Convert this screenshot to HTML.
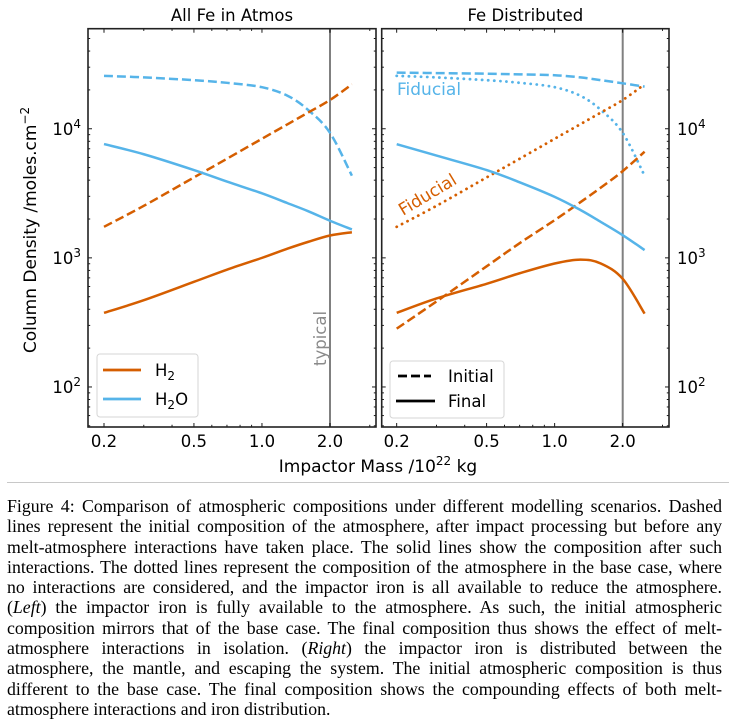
<!DOCTYPE html>
<html><head><meta charset="utf-8">
<style>
html,body{margin:0;padding:0;background:#fff;width:733px;height:725px;overflow:hidden;}
#cap{position:absolute;left:7px;top:496px;width:715px;font-family:"Liberation Serif",serif;font-size:17.8px;line-height:20.3px;color:#000;}
#cap div{text-align:justify;text-align-last:justify;white-space:nowrap;height:20.3px;}
#cap div.last{text-align-last:left;}
#rule{position:absolute;left:7px;top:482px;width:722px;height:1px;background:#c8c8c8;}
</style></head><body>
<svg id="chart" width="733" height="480" style="position:absolute;left:0;top:0" font-family="DejaVu Sans, sans-serif"></svg>
<div id="rule"></div>
<div id="cap">
<div>Figure 4: Comparison of atmospheric compositions under different modelling scenarios. Dashed</div>
<div>lines represent the initial composition of the atmosphere, after impact processing but before any</div>
<div>melt-atmosphere interactions have taken place. The solid lines show the composition after such</div>
<div>interactions. The dotted lines represent the composition of the atmosphere in the base case, where</div>
<div>no interactions are considered, and the impactor iron is all available to reduce the atmosphere.</div>
<div>(<i>Left</i>) the impactor iron is fully available to the atmosphere. As such, the initial atmospheric</div>
<div>composition mirrors that of the base case. The final composition thus shows the effect of melt-</div>
<div>atmosphere interactions in isolation. (<i>Right</i>) the impactor iron is distributed between the</div>
<div>atmosphere, the mantle, and escaping the system. The initial atmospheric composition is thus</div>
<div>different to the base case. The final composition shows the compounding effects of both melt-</div>
<div class="last">atmosphere interactions and iron distribution.</div>
</div>
<script>
// ---- data ----
const massX = [0.2, 0.3, 0.5, 0.7, 1.0, 1.3, 1.6, 2.0, 2.5];
const fidH2O = [25700, 25000, 23800, 22700, 21000, 18000, 14000, 9300, 4330];
const fidH2 = [1740, 2530, 4200, 5860, 8370, 10860, 13350, 16700, 22100];
const leftH2OFinal = [7610, 6350, 4790, 3900, 3160, 2650, 2300, 1940, 1660];
const leftH2Final = [375, 470, 652, 810, 1000, 1180, 1330, 1490, 1580];
const rightH2OInit = [27200, 27000, 26700, 26400, 26000, 25000, 23800, 22500, 21200];
const rightH2Init = [283, 460, 860, 1300, 1960, 2700, 3500, 4700, 6640];
const rightH2OFinal = [7600, 6200, 4790, 3850, 2970, 2350, 1900, 1500, 1150];
const rightH2Final = [375, 485, 630, 760, 905, 970, 905, 688, 370];
const xTicks = [0.2, 0.5, 1.0, 2.0];
const xTickLabels = ["0.2", "0.5", "1.0", "2.0"];
const xMinor = [0.3, 0.4, 0.6, 0.7, 0.8, 0.9, 3.0];
const yTicks = [100, 1000, 10000];
const yTickExp = ["2", "3", "4"];
const typicalMass = 2.0;

const ORANGE = "#d55e00", BLUE = "#56b4e9";
const svg = document.getElementById('chart');
const NS = "http://www.w3.org/2000/svg";
function mk(tag, attrs, parent) {
  const e = document.createElementNS(NS, tag);
  for (const k in attrs) e.setAttribute(k, attrs[k]);
  (parent || svg).appendChild(e);
  return e;
}
const TOP = 28.7, BOT = 427;
const yLogTop = 4 + (128.7 - TOP) / 129, yLogBot = 2 - (BOT - 387) / 129;
function yScale(v) { return TOP + (yLogTop - Math.log10(v)) / (yLogTop - yLogBot) * (BOT - TOP); }
function makeX(x02) { return v => x02 + (Math.log10(v) - Math.log10(0.2)) * 226; }

function smoothPath(pts) {
  let d = "M" + pts[0][0].toFixed(2) + "," + pts[0][1].toFixed(2);
  for (let i = 0; i < pts.length - 1; i++) {
    const p0 = pts[Math.max(i - 1, 0)], p1 = pts[i], p2 = pts[i + 1], p3 = pts[Math.min(i + 2, pts.length - 1)];
    const c1 = [p1[0] + (p2[0] - p0[0]) / 6, p1[1] + (p2[1] - p0[1]) / 6];
    const c2 = [p2[0] - (p3[0] - p1[0]) / 6, p2[1] - (p3[1] - p1[1]) / 6];
    d += " C" + c1.map(n => n.toFixed(2)).join(",") + " " + c2.map(n => n.toFixed(2)).join(",") + " " + p2[0].toFixed(2) + "," + p2[1].toFixed(2);
  }
  return d;
}

function panel(name, L, R, x02, labelsRight, title) {
  const xs = makeX(x02);
  const g = mk('g', {});
  
  
  const t = mk('text', {x: (L + R) / 2, y: 21, 'text-anchor': 'middle', 'font-size': 16.5}, g);
  t.textContent = title;
  
  
  const tl = mk('line', {x1: xs(typicalMass), x2: xs(typicalMass), y1: TOP, y2: BOT, stroke: '#808080', 'stroke-width': 2}, g);
  
  
  const tg = mk('g', {stroke: '#000', 'stroke-width': 0.9}, g);
  xTicks.forEach((v, i) => {
    const x = xs(v);
    mk('line', {x1: x, x2: x, y1: BOT, y2: BOT - 4}, tg);
    mk('line', {x1: x, x2: x, y1: TOP, y2: TOP + 4}, tg);
    const lb = mk('text', {x: x, y: BOT + 20, 'text-anchor': 'middle', 'font-size': 16.5, stroke: 'none', fill: '#000'}, g);
    lb.textContent = xTickLabels[i];
    
    
  });
  xMinor.forEach(v => {
    const x = xs(v);
    if (x > R) return;
    mk('line', {x1: x, x2: x, y1: BOT, y2: BOT - 2.2}, tg);
    mk('line', {x1: x, x2: x, y1: TOP, y2: TOP + 2.2}, tg);
  });
  yTicks.forEach((v, i) => {
    const y = yScale(v);
    mk('line', {x1: L, x2: L + 4, y1: y, y2: y}, tg);
    mk('line', {x1: R, x2: R - 4, y1: y, y2: y}, tg);
    const lb = mk('text', {x: labelsRight ? R + 8 : L - 7, y: y + 6, 'text-anchor': labelsRight ? 'start' : 'end', 'font-size': 16.5, stroke: 'none', fill: '#000'}, g);
    lb.innerHTML = '10<tspan dy="-7" font-size="12">' + yTickExp[i] + '</tspan>';
    
    
  });
  for (let dec = 10; dec <= 10000; dec *= 10) {
    for (let m = 2; m <= 9; m++) {
      const y = yScale(dec * m);
      if (y < TOP || y > BOT) continue;
      mk('line', {x1: L, x2: L + 2.2, y1: y, y2: y}, tg);
      mk('line', {x1: R, x2: R - 2.2, y1: y, y2: y}, tg);
    }
  }
  const fr = mk('rect', {x: L, y: TOP, width: R - L, height: BOT - TOP, fill: 'none', stroke: '#222', 'stroke-width': 1.6}, g);
  
  
  return {g, xs};
}
function series(p, ys, color, dash, name) {
  const pts = massX.map((v, i) => [p.xs(v), yScale(ys[i])]);
  const a = {d: smoothPath(pts), fill: 'none', stroke: color, 'stroke-width': 2.5};
  if (dash === 'dash') a['stroke-dasharray'] = '9,4';
  if (dash === 'dot') { a['stroke-dasharray'] = '0.1,6'; a['stroke-linecap'] = 'round'; a['stroke-width'] = 2.8; }
  const e = mk('path', a, p.g);
  
  
}

const pl = panel('left-panel', 88, 376, 104, false, 'All Fe in Atmos');
series(pl, fidH2O, BLUE, 'dash', 'h2o-initial-line');
series(pl, fidH2, ORANGE, 'dash', 'h2-initial-line');
series(pl, leftH2OFinal, BLUE, '', 'h2o-final-line');
series(pl, leftH2Final, ORANGE, '', 'h2-final-line');
const typ = mk('text', {x: 0, y: 0, transform: 'translate(' + (pl.xs(typicalMass) - 4) + ',366) rotate(-90)', 'font-size': 16.5, fill: '#8a8a8a'}, pl.g);
typ.textContent = 'typical';



const pr = panel('right-panel', 381.7, 669, 396.7, true, 'Fe Distributed');
series(pr, fidH2O, BLUE, 'dot', 'h2o-fiducial-line');
series(pr, fidH2, ORANGE, 'dot', 'h2-fiducial-line');
series(pr, rightH2OInit, BLUE, 'dash', 'h2o-initial-line');
series(pr, rightH2Init, ORANGE, 'dash', 'h2-initial-line');
series(pr, rightH2OFinal, BLUE, '', 'h2o-final-line');
series(pr, rightH2Final, ORANGE, '', 'h2-final-line');
const f1 = mk('text', {x: 397, y: 95, 'font-size': 17, fill: BLUE}, pr.g);
f1.textContent = 'Fiducial';


const f2 = mk('text', {x: 0, y: 0, transform: 'translate(403,216) rotate(-31)', 'font-size': 17, fill: ORANGE}, pr.g);
f2.textContent = 'Fiducial';



function legend(name, x, y, w, h, items) {
  const g = mk('g', {});
  
  
  mk('rect', {x, y, width: w, height: h, rx: 3, fill: '#fff', stroke: '#d6d6d6', 'stroke-width': 1}, g);
  items.forEach(it => {
    const a = {x1: it.x1, x2: it.x2, y1: it.y, y2: it.y, stroke: it.c, 'stroke-width': 2.8};
    if (it.dash) a['stroke-dasharray'] = '9,4';
    mk('line', a, g);
    const t = mk('text', {x: it.tx, y: it.y + 6, 'font-size': 16.5}, g);
    t.innerHTML = it.label;
    
    
  });
}
legend('left-legend', 97, 354, 101, 63, [
  {x1: 103, x2: 141, y: 370, c: ORANGE, tx: 155, label: 'H<tspan dy="4" font-size="12">2</tspan>'},
  {x1: 103, x2: 141, y: 399, c: BLUE, tx: 155, label: 'H<tspan dy="4" font-size="12">2</tspan><tspan dy="-4">O</tspan>'}
]);
legend('right-legend', 390, 361, 114, 57, [
  {x1: 398, x2: 431, y: 376, c: '#000', dash: true, tx: 448, label: 'Initial'},
  {x1: 396, x2: 435, y: 401, c: '#000', tx: 448, label: 'Final'}
]);
const yt = mk('text', {x: 0, y: 0, transform: 'translate(36,230) rotate(-90)', 'text-anchor': 'middle', 'font-size': 17});
yt.innerHTML = 'Column Density /moles.cm<tspan dy="-7" font-size="12">\u22122</tspan>';


const xt = mk('text', {x: 378, y: 472, 'text-anchor': 'middle', 'font-size': 17});
xt.innerHTML = 'Impactor Mass /10<tspan dy="-7" font-size="12">22</tspan><tspan dy="7"> kg</tspan>';


</script>
</body></html>
